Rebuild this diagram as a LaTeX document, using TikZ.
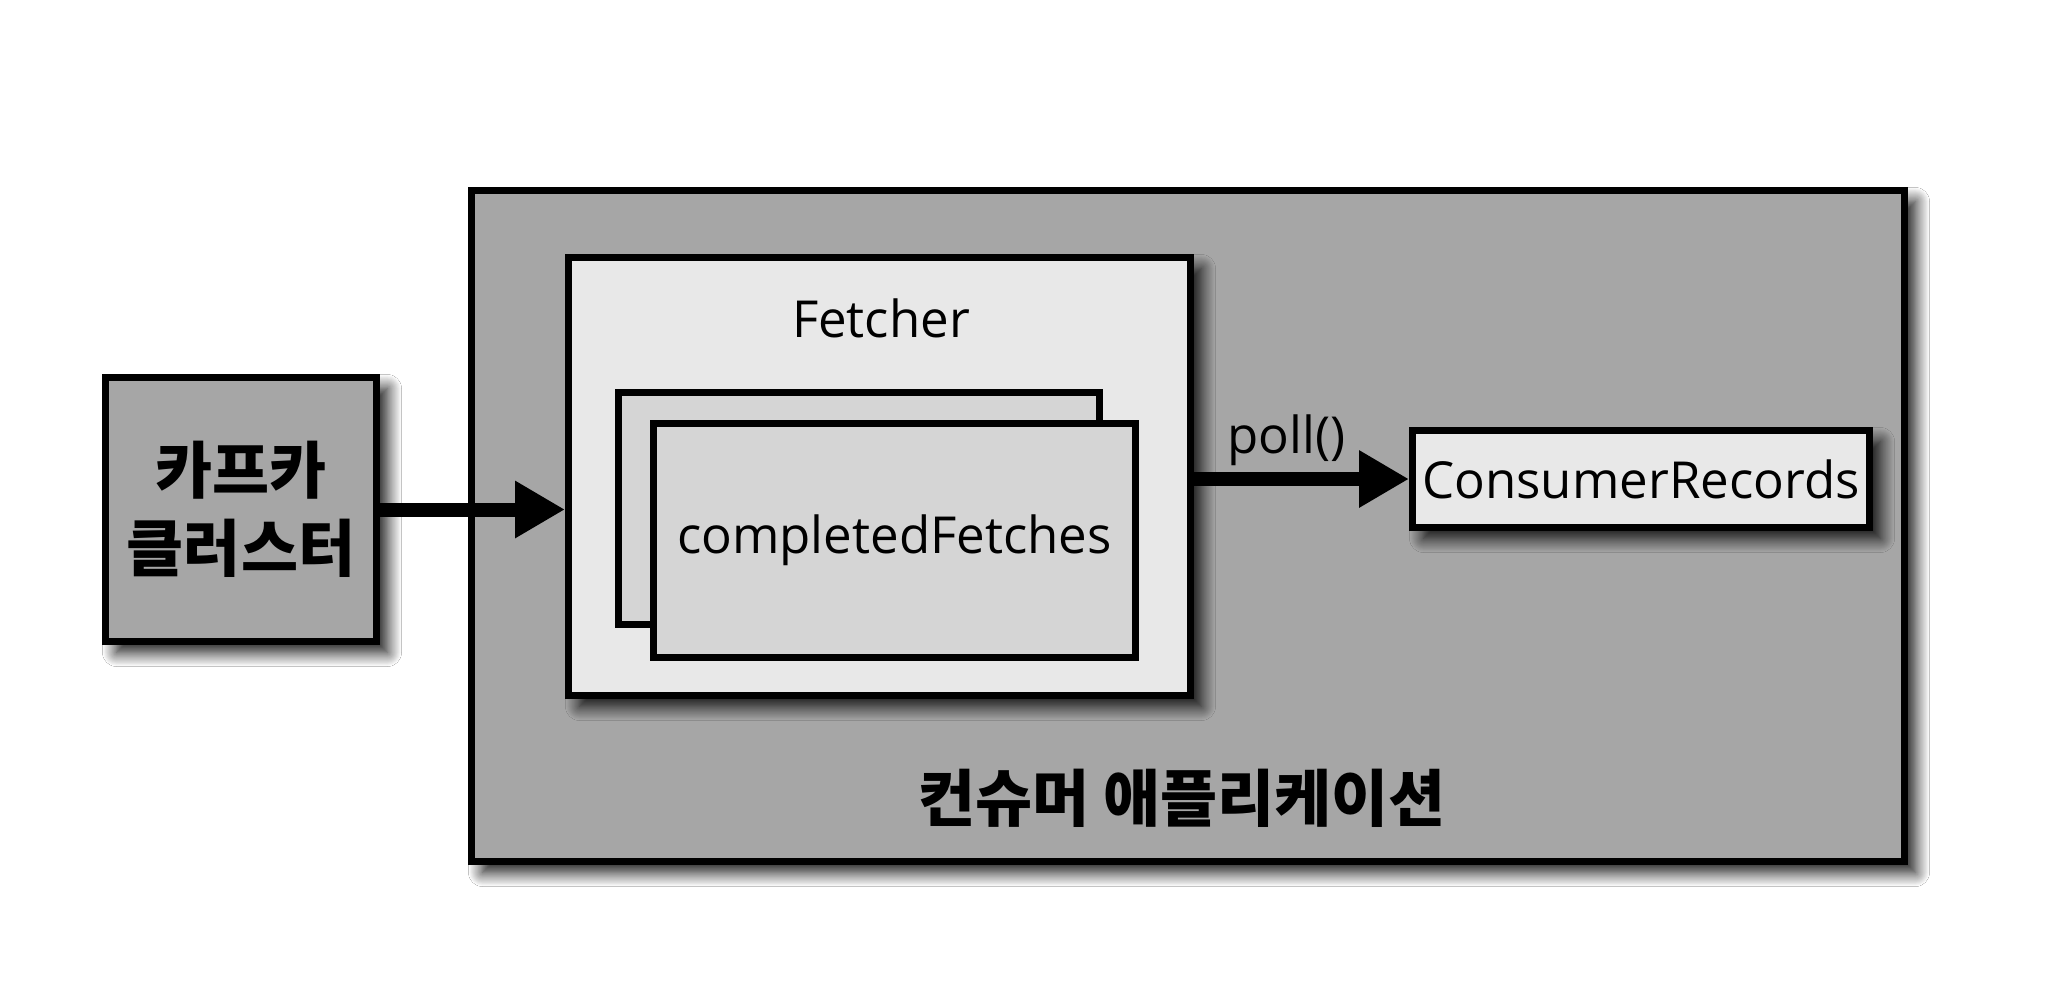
\documentclass[tikz,border=0pt]{standalone}
\usepackage{fontspec}
\setmainfont{Open Sans}
\newfontfamily\kr{Noto Sans CJK KR}
\usetikzlibrary{arrows.meta,shadows.blur}
\definecolor{outergray}{HTML}{A6A6A6}
\definecolor{lightbox}{HTML}{E8E8E8}
\definecolor{midbox}{HTML}{D5D5D5}
\tikzset{
  box/.style={draw=black, line width=3.5pt, inner sep=0pt, rectangle},
  shad/.style={blur shadow={shadow xshift=5.5pt, shadow yshift=-5.5pt, shadow blur radius=7pt, shadow blur steps=16, shadow opacity=95}},
  arr/.style={line width=7pt, -{Triangle[length=25pt, width=27pt]}},
  lat/.style={font=\fontsize{25.5}{30}\selectfont},
  kor/.style={font=\kr\bfseries\fontsize{31}{39}\selectfont, align=center},
}
\begin{document}
\begin{tikzpicture}[x=0.5pt, y=-0.5pt]
\useasboundingbox[fill=white] (0,0) rectangle (2052,1002);
\node[box, shad, fill=outergray, minimum width=716.5pt, minimum height=335.5pt] (app) at (1188,526) {};
\node[box, shad, fill=outergray, minimum width=135.5pt, minimum height=132pt, kor] (kafka) at (241,509.5) {카프카\\클러스터};
\node[box, shad, fill=lightbox, minimum width=311pt, minimum height=219pt] (fetch) at (879.5,476.5) {};
\node[lat] (fetchlbl) at (881,318) {Fetcher};
\node[box, fill=midbox, minimum width=240.5pt, minimum height=116pt] (cfback) at (859,508.5) {};
\node[box, fill=midbox, minimum width=241pt, minimum height=117pt, lat] (cf) at (894.5,540.5) {completedFetches};
\node[box, shad, fill=lightbox, minimum width=228.5pt, minimum height=48.5pt, lat] (cr) at (1641,479) {ConsumerRecords};
\node[kor] (applbl) at (1182,798) {컨슈머 애플리케이션};
\draw[arr] (kafka.east) -- (kafka.east -| fetch.west);
\draw[arr] (fetch.east |- cr.west) -- (cr.west) node[pos=0.43, above=0pt, lat] (polllbl) {poll()};
\end{tikzpicture}
\end{document}
